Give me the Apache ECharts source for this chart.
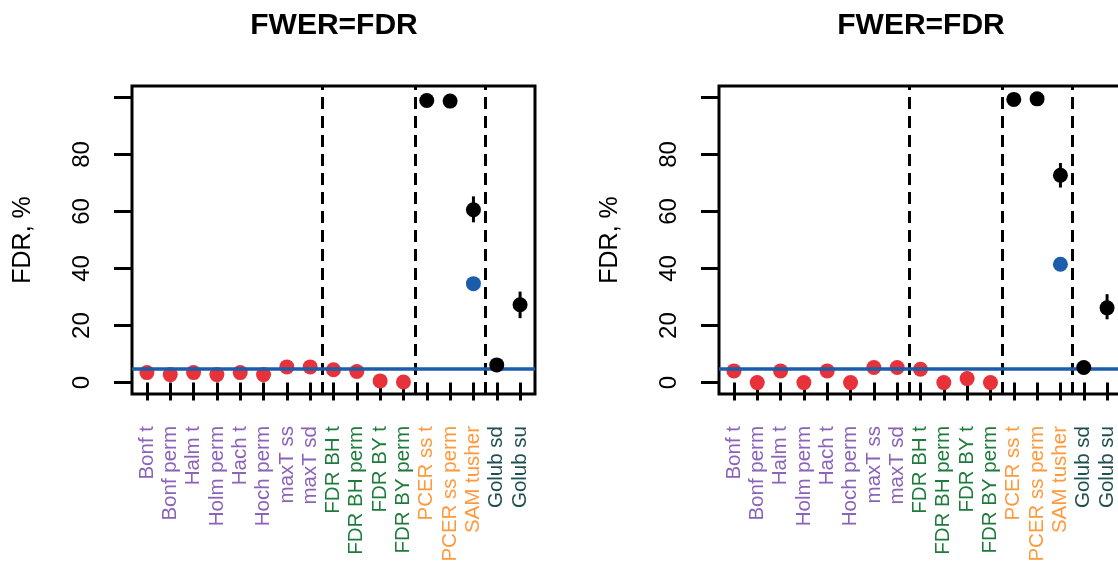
<!DOCTYPE html>
<html>
<head>
<meta charset="utf-8">
<script src="https://cdn.jsdelivr.net/npm/echarts@6/dist/echarts.min.js"></script>
<style>
  html, body { margin: 0; padding: 0; background: #fff; }
  #chart { width: 1118px; height: 567px; }
</style>
</head>
<body>
<div id="chart"></div>
<script>
// Multiple-testing procedures on the horizontal axis
const methods = ['Bonf t', 'Bonf perm', 'Halm t', 'Holm perm', 'Hach t', 'Hoch perm',
  'maxT ss', 'maxT sd', 'FDR BH t', 'FDR BH perm', 'FDR BY t', 'FDR BY perm',
  'PCER ss t', 'PCER ss perm', 'SAM tusher', 'Golub sd', 'Golub su'];
// Colour group of each method label
const methodGroup = ['p', 'p', 'p', 'p', 'p', 'p', 'p', 'p', 'g', 'g', 'g', 'g',
  'o', 'o', 'o', 't', 't'];
// Number of leading methods drawn in red (FWER / FDR controlling ones)
const controlledCount = 12;

// Observed FDR (%) per method, left and right panels
const fdrLeft = [3.5, 2.8, 3.5, 2.8, 3.5, 2.8, 5.5, 5.5, 4.5, 3.9, 0.6, 0.2,
  98.9, 98.7, 60.6, 6.2, 27.3];
const fdrRight = [4.1, 0.0, 4.1, 0.0, 4.1, 0.0, 5.3, 5.3, 4.7, 0.0, 1.4, 0.0,
  99.3, 99.5, 72.7, 5.3, 26.2];

// SAM's own FDR estimate (blue point) [method position, value]
const samEstLeft = [[15, 34.7]];
const samEstRight = [[15, 41.5]];

// Interval bars [method position, low, high]
const barsLeft = [[15, 56.2, 65.3], [17, 22.6, 31.9]];
const barsRight = [[15, 68.4, 77.0], [17, 22.2, 31.0]];

// Nominal level and group separators
const nominalLevel = 5;
const separators = [8.5, 12.5, 15.5];

// Axis ticks
const yTicks = [0, 20, 40, 60, 80, 100];
const yTickLabels = [0, 20, 40, 60, 80];
const xPositions = methods.map((_, i) => i + 1);

const chartTitle = 'FWER=FDR';
const yName = 'FDR, %';

const groupColors = { p: '#8B63B8', g: '#1E7B3C', o: '#FF9A3C', t: '#1F4F4F' };
const RED = '#E8323A', BLUE = '#1B5CAB', BLACK = '#000000';
const FONT = 'Liberation Sans, Arial, Helvetica, sans-serif';

const chart = echarts.init(document.getElementById('chart'), null, { renderer: 'canvas' });

const methodIndex = v => Math.round(v) - 1;

function xAxisFor(gridIndex) {
  return {
    gridIndex, type: 'value', min: 0.36, max: 17.64,
    axisLine: { show: false }, splitLine: { show: false },
    axisTick: { show: true, customValues: xPositions, length: 18, lineStyle: { color: BLACK, width: 3 } },
    axisLabel: {
      show: true, customValues: xPositions, rotate: 90, margin: 32,
      fontSize: 20.5, fontFamily: FONT,
      formatter: v => methods[methodIndex(v)],
      color: v => groupColors[methodGroup[methodIndex(v)]]
    }
  };
}

function yAxisFor(gridIndex) {
  return {
    gridIndex, type: 'value', min: -4, max: 104,
    name: yName, nameLocation: 'middle', nameRotate: 90, nameGap: 96,
    nameTextStyle: { fontSize: 25, fontFamily: FONT, color: BLACK },
    axisLine: { show: false }, splitLine: { show: false },
    axisTick: { show: true, customValues: yTicks, length: 18, lineStyle: { color: BLACK, width: 3 } },
    axisLabel: {
      show: true, customValues: yTickLabels, rotate: 90, margin: 38,
      fontSize: 24, fontFamily: FONT, color: BLACK
    }
  };
}

function errorBarSeries(idx, data) {
  return {
    type: 'custom', xAxisIndex: idx, yAxisIndex: idx, z: 5, silent: true,
    data,
    renderItem: (params, api) => {
      const x = api.value(0);
      const a = api.coord([x, api.value(1)]);
      const b = api.coord([x, api.value(2)]);
      return { type: 'line', shape: { x1: a[0], y1: a[1], x2: b[0], y2: b[1] },
        style: { stroke: BLACK, lineWidth: 3 } };
    }
  };
}

function panelSeries(idx, fdr, samEst, bars) {
  const pts = fdr.map((v, i) => [i + 1, v]);
  return [
    {
      type: 'scatter', xAxisIndex: idx, yAxisIndex: idx, z: 2, symbolSize: 15,
      itemStyle: { color: RED, opacity: 1 }, data: pts.slice(0, controlledCount)
    },
    {
      type: 'line', xAxisIndex: idx, yAxisIndex: idx, z: 3, data: [], silent: true,
      markLine: {
        silent: true, symbol: ['none', 'none'], label: { show: false }, animation: false,
        data: [
          ...separators.map(s => ({ xAxis: s, lineStyle: { color: BLACK, width: 3, type: [12, 7] } })),
          { yAxis: nominalLevel, lineStyle: { color: BLUE, width: 3.5, type: 'solid' } }
        ]
      }
    },
    errorBarSeries(idx, bars),
    {
      type: 'scatter', xAxisIndex: idx, yAxisIndex: idx, z: 6, symbolSize: 15,
      itemStyle: { color: BLACK, opacity: 1 }, data: pts.slice(controlledCount)
    },
    {
      type: 'scatter', xAxisIndex: idx, yAxisIndex: idx, z: 6, symbolSize: 15,
      itemStyle: { color: BLUE, opacity: 1 }, data: samEst
    }
  ];
}

const titleStyle = { fontSize: 30, fontWeight: 'bold', fontFamily: FONT, color: BLACK };

chart.setOption({
  animation: false,
  backgroundColor: '#ffffff',
  title: [
    { text: chartTitle, left: 329, top: 6, textAlign: 'center', textStyle: titleStyle },
    { text: chartTitle, left: 916, top: 6, textAlign: 'center', textStyle: titleStyle }
  ],
  grid: [
    { left: 132, right: 583, top: 86, bottom: 173, show: true, borderColor: BLACK, borderWidth: 3,
      outerBoundsMode: 'none' },
    { left: 719, right: -4, top: 86, bottom: 173, show: true, borderColor: BLACK, borderWidth: 3,
      outerBoundsMode: 'none' }
  ],
  xAxis: [xAxisFor(0), xAxisFor(1)],
  yAxis: [yAxisFor(0), yAxisFor(1)],
  series: [
    ...panelSeries(0, fdrLeft, samEstLeft, barsLeft),
    ...panelSeries(1, fdrRight, samEstRight, barsRight)
  ]
});
</script>
</body>
</html>
